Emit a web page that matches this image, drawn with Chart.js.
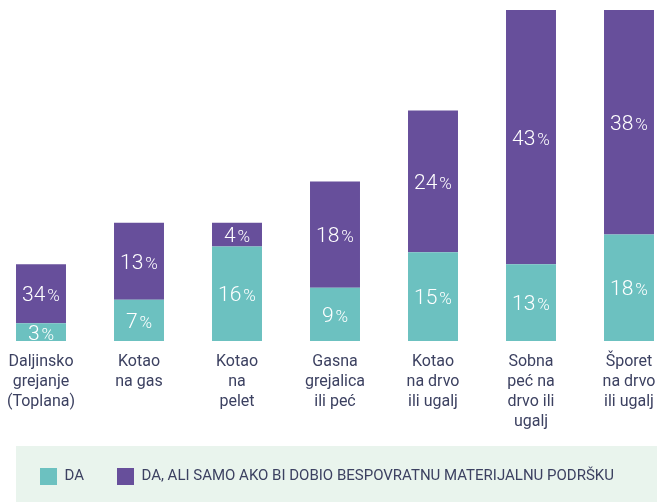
<!DOCTYPE html>
<html>
<head>
<meta charset="utf-8">
<script src="https://cdn.jsdelivr.net/npm/chart.js@4"></script>
<style>
  html, body { margin: 0; padding: 0; background: #fff; overflow: hidden; }
  #wrap { position: relative; width: 657px; height: 502px; overflow: hidden; }
  #my-chart { position: absolute; left: -8px; top: 0; }
</style>
</head>
<body>
<div id="wrap"><canvas id="my-chart" width="686" height="502"></canvas></div>
<script>
'use strict';

let categories = [
  ['Daljinsko', 'grejanje', '(Toplana)'],
  ['Kotao', 'na gas'],
  ['Kotao', 'na', 'pelet'],
  ['Gasna', 'grejalica', 'ili peć'],
  ['Kotao', 'na drvo', 'ili ugalj'],
  ['Sobna', 'peć na', 'drvo ili', 'ugalj'],
  ['Šporet', 'na drvo', 'ili ugalj']
];

// bar heights as drawn in the picture
let daValues = [3, 7, 16, 9, 15, 13, 18];
let uslovnoValues = [10, 13, 4, 18, 24, 43, 38]; // first bar is drawn shorter than its 34% label

// texts printed on the bars
let daLabels = ['3', '7', '16', '9', '15', '13', '18'];
let uslovnoLabels = ['34', '13', '4', '18', '24', '43', '38'];

let seriesNames = ['DA', 'DA, ALI SAMO AKO BI DOBIO BESPOVRATNU MATERIJALNU PODRŠKU'];

let teal = '#6cc1c0';
let purple = '#674f9b';
let navy = '#3c4161';

let canvasElem = document.getElementById('my-chart');

let barText = {
  id: 'barText',
  afterDatasetsDraw(chart) {
    let ctx = chart.ctx;
    let area = chart.chartArea;
    let texts = [daLabels, uslovnoLabels];
    ctx.save();
    ctx.beginPath();
    ctx.rect(area.left, area.top, area.right - area.left, area.bottom - area.top);
    ctx.clip();
    ctx.fillStyle = '#ffffff';
    ctx.textBaseline = 'alphabetic';
    ctx.textAlign = 'left';
    chart.data.datasets.forEach(function(ds, d) {
      let meta = chart.getDatasetMeta(d);
      meta.data.forEach(function(bar, i) {
        let p = bar.getProps(['x', 'y', 'base'], true);
        let cy = (p.y + p.base) / 2;
        let num = texts[d][i];
        ctx.font = '300 21px Roboto';
        let w1 = ctx.measureText(num).width;
        ctx.font = '300 17px Roboto';
        let w2 = ctx.measureText('%').width;
        let x0 = p.x - (w1 + 2 + w2) / 2;
        let base = cy + 7.5;
        ctx.font = '300 21px Roboto';
        ctx.fillText(num, x0, base);
        ctx.font = '300 17px Roboto';
        ctx.fillText('%', x0 + w1 + 2, base);
      });
    });
    ctx.restore();
  }
};

let legendBox = {
  id: 'legendBox',
  afterLayout(chart) {
    chart.legend.left = 15;
  },
  beforeDraw(chart) {
    let lg = chart.legend;
    let ctx = chart.ctx;
    ctx.save();
    ctx.fillStyle = '#e9f4ed';
    ctx.fillRect(24, lg.top + 11, chart.width - 24, chart.height - lg.top - 11);
    ctx.restore();
  }
};

function renderChart() {
  let chartObj = {
    type: 'bar',
    data: {
      labels: categories,
      datasets: [{
        label: seriesNames[0],
        data: daValues,
        backgroundColor: teal,
        borderWidth: 0
      },
      {
        label: seriesNames[1],
        data: uslovnoValues,
        backgroundColor: purple,
        borderWidth: 0
      }]
    },
    options: {
      responsive: false,
      animation: false,
      devicePixelRatio: 1,
      barPercentage: 0.51,
      categoryPercentage: 1,
      layout: { padding: { top: 0, left: 0, right: 0, bottom: 7 } },
      scales: {
        x: {
          stacked: true,
          grid: { display: false, drawTicks: false },
          border: { display: false },
          ticks: {
            color: navy,
            padding: 11,
            maxRotation: 0,
            autoSkip: false,
            font: { family: 'Roboto', size: 16, lineHeight: 1.25 }
          },
          afterFit(scale) { scale.height = 94; }
        },
        y: {
          stacked: true,
          display: false,
          min: 0,
          max: 57.7
        }
      },
      plugins: {
        tooltip: { enabled: false },
        legend: {
          position: 'bottom',
          align: 'start',
          labels: {
            color: navy,
            boxWidth: 17,
            boxHeight: 17,
            padding: 33,
            font: { family: 'Roboto', size: 15 }
          }
        }
      }
    },
    plugins: [barText, legendBox]
  };

  new Chart(canvasElem, chartObj); //eslint-disable-line
}

renderChart();
</script>
</body>
</html>
